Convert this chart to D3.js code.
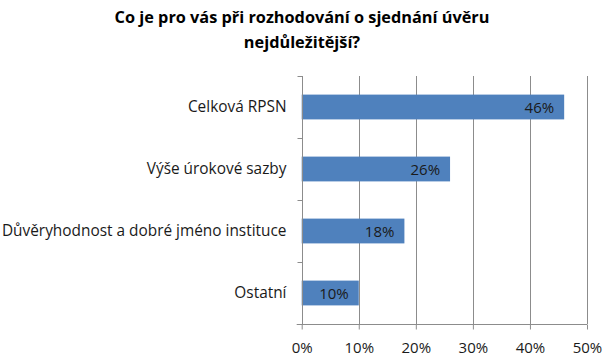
<!DOCTYPE html>
<html><head><meta charset="utf-8">
<script src="https://cdn.jsdelivr.net/npm/d3@7"></script>
<style>body{margin:0;background:#fff}svg{display:block}</style>
</head><body>
<script>
const titleLines = ["Co je pro vás při rozhodování o sjednání úvěru", "nejdůležitější?"];
const categories = ["Celková RPSN", "Výše úrokové sazby", "Důvěryhodnost a dobré jméno instituce", "Ostatní"];
const values = [46, 26, 18, 10];
const tickValues = [0, 10, 20, 30, 40, 50];

const W = 605, H = 361;
const m = {left: 301.7, right: 587, top: 76, bottom: 324};
const font = "'Open Sans', Lato, sans-serif";
const fs = 15;

const svg = d3.select("body").append("svg").attr("width", W).attr("height", H);
svg.append("rect").attr("width", W).attr("height", H).attr("fill", "#fff");

const x = d3.scaleLinear().domain([0, 50]).range([m.left, m.right]);
const y = d3.scaleBand().domain(categories).range([m.top, m.bottom]).paddingInner(0.6).paddingOuter(0.3);
const yb = d3.scaleBand().domain(categories).range([m.top, m.bottom]);

// title
svg.append("text").attr("x", 302).attr("y", 23).attr("text-anchor", "middle")
  .attr("font-family", font).attr("font-weight", "bold").attr("font-size", 16.3).attr("fill", "#000")
  .selectAll("tspan").data(titleLines).join("tspan")
  .attr("x", 302).attr("dy", (d, i) => i === 0 ? 0 : 25).text(d => d);

// gridlines
svg.append("g").selectAll("line").data(tickValues.slice(1)).join("line")
  .attr("x1", d => Math.round(x(d)) + 0.5).attr("x2", d => Math.round(x(d)) + 0.5)
  .attr("y1", m.top).attr("y2", m.bottom)
  .attr("stroke", "#8c8c8c").attr("stroke-width", 1);

// bars
svg.append("g").selectAll("rect").data(values).join("rect")
  .attr("x", x(0)).attr("y", (d, i) => y(categories[i]))
  .attr("width", d => x(d) - x(0)).attr("height", y.bandwidth())
  .attr("fill", "#4f81bd");

// value labels
svg.append("g").selectAll("text").data(values).join("text")
  .attr("x", d => x(d) - 10).attr("y", (d, i) => y(categories[i]) + y.bandwidth() / 2 + 5.5)
  .attr("text-anchor", "end").attr("font-family", font).attr("font-size", fs).attr("fill", "#1a1a1a")
  .text(d => d + "%");

// x axis
const xAxis = d3.axisBottom(x).tickValues(tickValues).tickFormat(d => d + "%").tickSize(5).tickSizeOuter(0);
const gx = svg.append("g").attr("transform", `translate(0,${m.bottom + 0.5})`).call(xAxis);
gx.select(".domain").attr("stroke", "#8c8c8c").attr("d", `M${m.left - 5},0H${m.right}`);
gx.selectAll(".tick line").attr("stroke", "#8c8c8c");
gx.selectAll(".tick text").attr("font-family", font).attr("font-size", fs).attr("fill", "#1a1a1a")
  .attr("y", 28.5).attr("dy", 0);

// y axis
const yAxis = d3.axisLeft(yb).tickSize(0);
const gy = svg.append("g").attr("transform", `translate(${Math.round(m.left) + 0.5},0)`).call(yAxis);
gy.select(".domain").attr("stroke", "#8c8c8c").attr("d", `M0,${m.top}V${m.bottom}`);
gy.selectAll(".tick text").attr("font-family", font).attr("font-size", 15.4).attr("fill", "#1a1a1a")
  .attr("x", -16).attr("dy", "0.35em");
// category separator ticks
const bounds = categories.map(c => yb(c)).concat([m.bottom]);
gy.append("g").selectAll("line").data(bounds).join("line")
  .attr("x1", -5).attr("x2", 0).attr("y1", d => Math.round(d) + 0.5).attr("y2", d => Math.round(d) + 0.5)
  .attr("stroke", "#8c8c8c");
</script>
</body></html>
